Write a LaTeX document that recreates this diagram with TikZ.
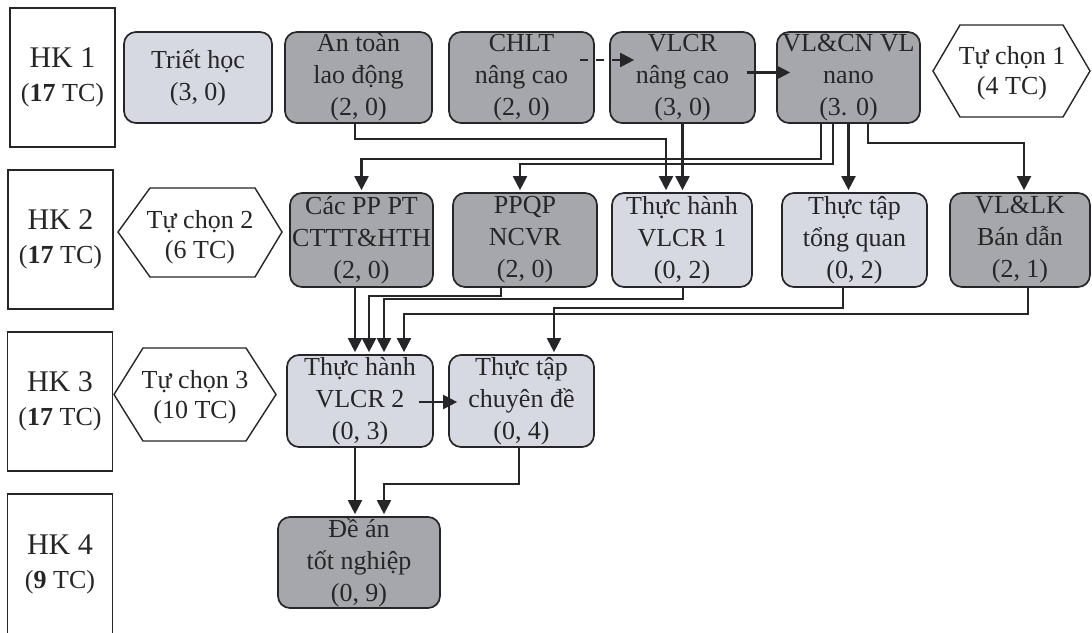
\documentclass[tikz,border=0pt]{standalone}
\usepackage{fontspec}
\setmainfont{Liberation Serif}
\usetikzlibrary{arrows.meta}
\definecolor{darkfill}{RGB}{166,167,172}
\definecolor{lightfill}{RGB}{214,217,226}
\definecolor{ink}{RGB}{38,38,40}
\tikzset{
  box/.style={draw=ink, line width=1.7pt, rounded corners=12pt, inner sep=0pt, align=center, text=ink, font=\fontsize{26}{32}\selectfont},
  dbox/.style={box, fill=darkfill},
  lbox/.style={box, fill=lightfill},
  hkbox/.style={draw=ink, line width=1.4pt, fill=white, inner sep=0pt, align=center, text=ink, font=\fontsize{30}{34}\selectfont},
  hexline/.style={draw=ink, line width=1.4pt, fill=white},
  hextext/.style={inner sep=0pt, align=center, text=ink, font=\fontsize{26}{30}\selectfont},
  conn/.style={draw=ink, line width=2.1pt},
  arr/.style={conn, -{Triangle[length=14pt,width=14pt]}, shorten >=2pt},
}
\begin{document}
\begin{tikzpicture}[x=1pt,y=-1pt]
\useasboundingbox[fill=white] (0,0) rectangle (1092,632);

% semester boxes
\node[hkbox, minimum width=105pt, minimum height=139pt] (hk1) at (62.5,77.5) {HK 1\\{\fontsize{26}{34}\selectfont(\textbf{17} TC)}};
\node[hkbox, minimum width=105pt, minimum height=139pt] (hk2) at (60.5,239.5) {HK 2\\{\fontsize{26}{34}\selectfont(\textbf{17} TC)}};
\node[hkbox, minimum width=105pt, minimum height=139pt] (hk3) at (60,401.5) {HK 3\\{\fontsize{26}{34}\selectfont(\textbf{17} TC)}};
\node[hkbox, minimum width=105pt, minimum height=140pt] (hk4) at (60,564) {HK 4\\{\fontsize{26}{34}\selectfont(\textbf{9} TC)}};

% row 1
\node[lbox, minimum width=148pt, minimum height=91pt] (trie) at (198,77.5) {Triết học\\(3, 0)};
\node[dbox, minimum width=147pt, minimum height=91pt] (antoan) at (358.5,77.5) {An toàn\\lao động\\(2, 0)};
\node[dbox, minimum width=145pt, minimum height=91pt] (chlt) at (521.5,77.5) {CHLT\\nâng cao\\(2, 0)};
\node[dbox, minimum width=145pt, minimum height=91pt] (vlcrnc) at (682.5,77.5) {VLCR\\nâng cao\\(3, 0)};
\node[dbox, minimum width=143pt, minimum height=91pt] (vlcn) at (848.5,77.5) {VL\&CN VL\\nano\\(3. 0)};
\draw[hexline] (933,71) -- (960,25) -- (1063,25) -- (1090,71) -- (1063,117) -- (960,117) -- cycle;
\node[hextext] (tc1) at (1012,73) {Tự chọn 1\\(4 TC)};

% row 2
\draw[hexline] (118,232) -- (150,188) -- (255,188) -- (282,232) -- (255,277) -- (150,277) -- cycle;
\node[hextext] (tc2) at (200,237) {Tự chọn 2\\(6 TC)};
\node[dbox, minimum width=143pt, minimum height=94pt] (cacpp) at (361.5,240) {Các PP PT\\CTTT\&HTH\\(2, 0)};
\node[dbox, minimum width=144pt, minimum height=94pt] (ppqp) at (525,240) {PPQP\\NCVR\\(2, 0)};
\node[lbox, minimum width=140pt, minimum height=94pt] (th1) at (682,240) {Thực hành\\VLCR 1\\(0, 2)};
\node[lbox, minimum width=145pt, minimum height=94pt] (ttq) at (854.5,240) {Thực tập\\tổng quan\\(0, 2)};
\node[dbox, minimum width=140pt, minimum height=94pt] (vllk) at (1020,240) {VL\&LK\\Bán dẫn\\(2, 1)};

% row 3
\draw[hexline] (114,394.5) -- (143,348) -- (246,348) -- (276,394.5) -- (246,441) -- (143,441) -- cycle;
\node[hextext] (tc3) at (195,397) {Tự chọn 3\\(10 TC)};
\node[lbox, minimum width=146pt, minimum height=92pt] (th2) at (360,401) {Thực hành\\VLCR 2\\(0, 3)};
\node[lbox, minimum width=145pt, minimum height=92pt] (ttcd) at (521.5,401) {Thực tập\\chuyên đề\\(0, 4)};

% row 4
\node[dbox, minimum width=162pt, minimum height=91pt] (dean) at (359,562.5) {Đề án\\tốt nghiệp\\(0, 9)};

% connectors row 1
\draw[arr, dash pattern=on 8pt off 8pt] ([xshift=-15pt,yshift=17.5pt]chlt.east) -- ([xshift=27pt,yshift=17.5pt]vlcrnc.west);
\draw[arr] ([xshift=-9pt,yshift=5pt]vlcrnc.east) -- ([xshift=16pt,yshift=5pt]vlcn.west);

% row 1 -> row 2
\draw[arr] ([xshift=-3.5pt]antoan.south) -- ++(0,15) -| ([xshift=-16pt]th1.north);
\draw[arr] (vlcrnc.south) -- (vlcrnc.south |- th1.north);
\draw[arr] ([xshift=-27.5pt]vlcn.south) -- ++(0,35) -| (cacpp.north);
\draw[arr] ([xshift=-15.5pt]vlcn.south) -- ++(0,40) -| ([xshift=-5pt]ppqp.north);
\draw[arr] (vlcn.south) -- (vlcn.south |- ttq.north);
\draw[arr] ([xshift=19.5pt]vlcn.south) -- ++(0,19) -| ([xshift=4pt]vllk.north);

% row 2 -> row 3
\draw[arr] ([xshift=-6.5pt]cacpp.south) -- ([xshift=-6.5pt]cacpp.south |- th2.north);
\draw[arr] ([xshift=-24pt]ppqp.south) -- ++(0,8) -| ([xshift=9pt]th2.north);
\draw[arr] ([xshift=1pt]th1.south) -- ++(0,11) -| ([xshift=24pt]th2.north);
\draw[arr] ([xshift=-11.5pt]ttq.south) -- ++(0,20) -| ([xshift=32.5pt]ttcd.north);
\draw[arr] ([xshift=8pt]vllk.south) -- ++(0,26) -| ([xshift=44pt]th2.north);

% row 3
\draw[arr] ([xshift=-15pt,yshift=-1pt]th2.east) -- ([xshift=11pt,yshift=-1pt]ttcd.west);
\draw[arr] ([xshift=-5pt]th2.south) -- ([xshift=-5pt]th2.south |- dean.north);
\draw[arr] ([xshift=-2.5pt]ttcd.south) -- ++(0,36) -| ([xshift=25pt]dean.north);
\end{tikzpicture}
\end{document}
